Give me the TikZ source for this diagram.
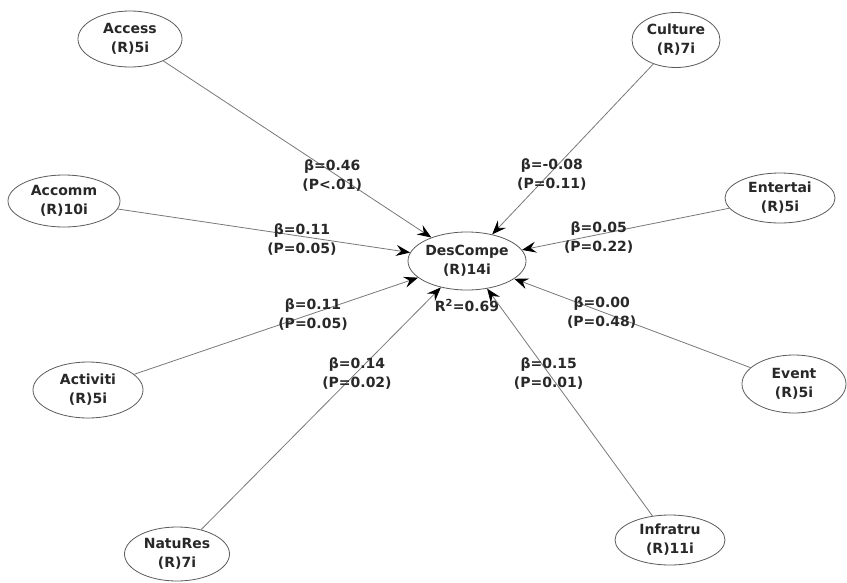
\documentclass[tikz,border=0pt]{standalone}
\usepackage{fontspec}
\setmainfont{DejaVu Sans}
\usepackage{tikz}
\usetikzlibrary{shapes.geometric, arrows.meta, positioning}
\definecolor{edgegray}{RGB}{120,120,120}
\definecolor{rimgray}{RGB}{90,90,90}
\definecolor{inkgray}{RGB}{40,40,40}

\begin{document}
\begin{tikzpicture}[
    x=1pt, y=-1pt,
    latent/.style={ellipse, draw=rimgray, line width=0.8pt, inner sep=0pt, minimum width=106pt, minimum height=55pt, align=center, text=inkgray, font=\fontsize{14}{19}\selectfont\bfseries},
    arr/.style={-{Stealth[length=14pt, width=11pt, inset=5pt, black]}, edgegray, line width=0.8pt},
    coef/.style={pos=0.63, yshift=-3pt, align=center, text=inkgray, font=\fontsize{14}{19}\selectfont\bfseries}
]
\useasboundingbox (0,0) rectangle (847,582);

\node[latent, minimum width=104pt, minimum height=58pt] (desc) at (467,261) {DesCompe\\(R)14i};
\node[text=inkgray, font=\fontsize{14}{15}\selectfont\bfseries, below=5pt of desc] (rsq) {R\textsuperscript{2}=0.69};

\node[latent, minimum width=104pt, minimum height=56pt] (access) at (130,39) {Access\\(R)5i};
\node[latent, minimum width=88pt] (culture) at (676,40) {Culture\\(R)7i};
\node[latent, minimum width=112pt, minimum height=52pt] (accomm) at (64,201) {Accomm\\(R)10i};
\node[latent, minimum width=110pt, minimum height=50pt] (entert) at (780,198) {Entertai\\(R)5i};
\node[latent, minimum width=110pt, minimum height=56pt] (activ) at (88,390) {Activiti\\(R)5i};
\node[latent, minimum width=104pt, minimum height=58pt] (event) at (794,384) {Event\\(R)5i};
\node[latent, minimum width=105pt, minimum height=54pt] (natures) at (177,554) {NatuRes\\(R)7i};
\node[latent, minimum width=110pt, minimum height=50pt] (infra) at (670,540) {Infratru\\(R)11i};

\draw[arr] (access) -- node[coef]{β=0.46\\(P<.01)} (desc);
\draw[arr] (accomm) -- node[coef]{β=0.11\\(P=0.05)} (desc);
\draw[arr] (activ) -- node[coef, yshift=2pt]{β=0.11\\(P=0.05)} (desc);
\draw[arr] (natures) -- node[coef, pos=0.65, yshift=2pt]{β=0.14\\(P=0.02)} (desc);
\draw[arr] (culture) -- node[coef]{β=-0.08\\(P=0.11)} (desc);
\draw[arr] (entert) -- node[coef]{β=0.05\\(P=0.22)} (desc);
\draw[arr] (event) -- node[coef, yshift=2pt]{β=0.00\\(P=0.48)} (desc);
\draw[arr] (infra) -- node[coef, pos=0.64, xshift=2pt]{β=0.15\\(P=0.01)} (desc);
\end{tikzpicture}
\end{document}
